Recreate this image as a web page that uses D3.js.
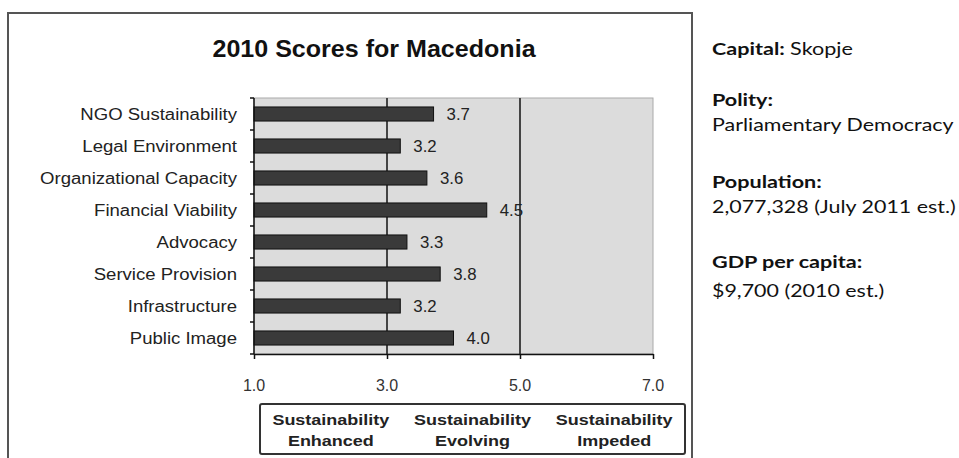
<!DOCTYPE html>
<html><head><meta charset="utf-8">
<script src="https://cdn.jsdelivr.net/npm/d3@7"></script>
<style>body{margin:0;background:#fff}svg{display:block}</style></head>
<body><svg id="c" width="959" height="458"></svg>
<script>
// ---- data ----
const title = "2010 Scores for Macedonia";
const categories = ["NGO Sustainability","Legal Environment","Organizational Capacity","Financial Viability","Advocacy","Service Provision","Infrastructure","Public Image"];
const scores = [3.7, 3.2, 3.6, 4.5, 3.3, 3.8, 3.2, 4.0];
const xTicks = [1, 3, 5, 7];
const zoneBoundaries = [3, 5];
const zoneLine1 = ["Sustainability","Sustainability","Sustainability"];
const zoneLine2 = ["Enhanced","Evolving","Impeded"];
const infoLabels = ["Capital:","Polity:","Population:","GDP per capita:"];
const infoValues = ["Skopje","Parliamentary Democracy","2,077,328 (July 2011 est.)","$9,700 (2010 est.)"];

// ---- layout ----
const svg = d3.select("#c");
const ARIAL = "'Liberation Sans', Arial, sans-serif";
const GILL = "Lato, 'Open Sans', sans-serif";

function stext(parent, x, y, str, o) {
  o = o || {};
  return parent.append("text")
    .attr("transform", `translate(${x},${y}) scale(${o.sx || 1.15},1)`)
    .attr("text-anchor", o.anchor || "start")
    .attr("font-family", o.family || ARIAL)
    .attr("font-size", o.size || 14)
    .attr("font-weight", o.weight || "normal")
    .attr("fill", o.fill || "#222")
    .text(str);
}

// outer frame
svg.append("rect").attr("x", 8).attr("y", 13).attr("width", 684).attr("height", 470)
  .attr("fill", "none").attr("stroke", "#555").attr("stroke-width", 2);

const x = d3.scaleLinear().domain([1, 7]).range([254, 653]);
const y = d3.scaleBand().domain(categories).range([98, 354]).paddingInner(0.56).paddingOuter(0.28);

// plot background
svg.append("rect").attr("x", x(1)).attr("y", 98).attr("width", x(7) - x(1)).attr("height", 354 - 98)
  .attr("fill", "#dcdcdc").attr("stroke", "#aaa").attr("stroke-width", 1);

// zone lines
svg.selectAll("line.zone").data(zoneBoundaries).join("line").attr("class", "zone")
  .attr("x1", d => x(d)).attr("x2", d => x(d)).attr("y1", 98).attr("y2", 354)
  .attr("stroke", "#444").attr("stroke-width", 2);

// bars
svg.selectAll("rect.bar").data(scores).join("rect").attr("class", "bar")
  .attr("x", x(1)).attr("y", (d, i) => y(categories[i]))
  .attr("width", d => x(d) - x(1)).attr("height", y.bandwidth())
  .attr("fill", "#3a3a3a").attr("stroke", "#111").attr("stroke-width", 1);

// value labels
const fmt = d3.format(".1f");
scores.forEach((d, i) => {
  stext(svg, x(d) + 13, y(categories[i]) + y.bandwidth() / 2 + 6, fmt(d), {size: 16, sx: 1.05, fill: "#222"});
});

// left axis with ticks at band boundaries
const gap = (y.step() - y.bandwidth()) / 2;
const bounds = categories.map(c => y(c) - gap).concat([354]);
svg.append("line").attr("x1", x(1)).attr("x2", x(1)).attr("y1", 98).attr("y2", 354).attr("stroke", "#111").attr("stroke-width", 1.5);
svg.selectAll("line.yt").data(bounds).join("line").attr("class", "yt")
  .attr("x1", x(1) - 4).attr("x2", x(1)).attr("y1", d => d).attr("y2", d => d)
  .attr("stroke", "#111").attr("stroke-width", 1.5);
categories.forEach(c => {
  stext(svg, 237, y(c) + y.bandwidth() / 2 + 5.5, c, {anchor: "end", size: 16, sx: 1.16, fill: "#222"});
});

// bottom axis
const xa = svg.append("g").attr("transform", "translate(0,354)")
  .call(d3.axisBottom(x).tickValues(xTicks).tickFormat(fmt).tickSize(5).tickSizeOuter(0));
xa.select(".domain").attr("stroke", "#111").attr("stroke-width", 1.5);
xa.selectAll(".tick line").attr("stroke", "#111").attr("stroke-width", 1.5);
xa.selectAll(".tick text").remove();
xTicks.forEach(t => stext(svg, x(t), 391, fmt(t), {anchor: "middle", size: 16, sx: 1.0, fill: "#333"}));

// title
stext(svg, 374, 57, title, {anchor: "middle", size: 23, weight: "bold", fill: "#111", sx: 1.09});

// zone legend box
const lb = {x: 260, y: 404, w: 425, h: 50};
svg.append("rect").attr("x", lb.x).attr("y", lb.y).attr("width", lb.w).attr("height", lb.h).attr("rx", 2)
  .attr("fill", "#fff").attr("stroke", "#333").attr("stroke-width", 2);
zoneLine1.forEach((t, i) => {
  const cx = lb.x + lb.w * (i + 0.5) / zoneLine1.length;
  stext(svg, cx, 425, t, {anchor: "middle", size: 15, weight: "bold", fill: "#222", sx: 1.2});
  stext(svg, cx, 446, zoneLine2[i], {anchor: "middle", size: 15, weight: "bold", fill: "#222", sx: 1.2});
});

// info panel
const info = svg.append("g");
const t0 = stext(info, 712, 55, "", {family: GILL, size: 17, sx: 1.27, fill: "#111"});
t0.append("tspan").attr("font-weight", "bold").text(infoLabels[0] + " ");
t0.append("tspan").text(infoValues[0]);
const rows = [[106, 131], [188, 213], [268, 297]];
rows.forEach((r, k) => {
  stext(info, 712, r[0], infoLabels[k + 1], {family: GILL, size: 17, sx: 1.27, weight: "bold", fill: "#111"});
  stext(info, 712, r[1], infoValues[k + 1], {family: GILL, size: 17, sx: 1.26, fill: "#111"});
});
</script></body></html>
